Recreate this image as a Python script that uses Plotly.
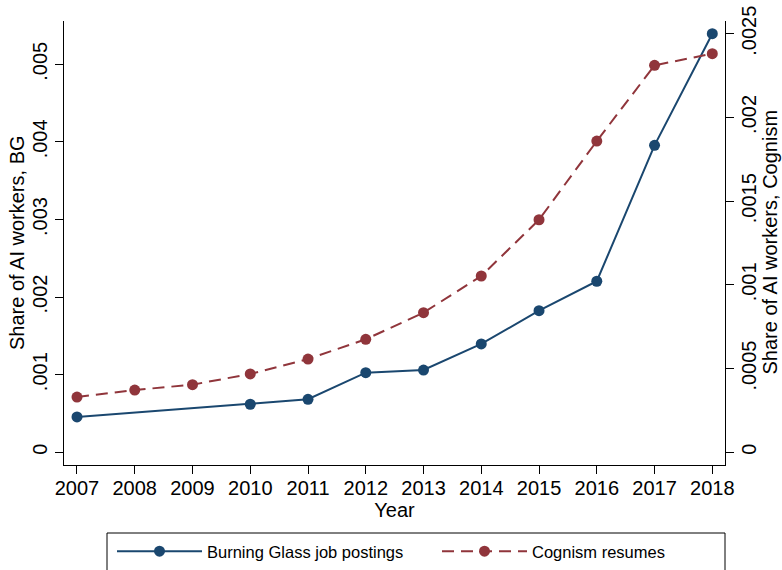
import plotly.graph_objects as go

years_bg = [2007, 2010, 2011, 2012, 2013, 2014, 2015, 2016, 2017, 2018]
bg_share = [0.000455, 0.000619, 0.000683, 0.001026, 0.00106, 0.001396, 0.001825, 0.002204, 0.003956, 0.005394]

years_cog = [2007, 2008, 2009, 2010, 2011, 2012, 2013, 2014, 2015, 2016, 2017, 2018]
cog_share = [0.000330, 0.000372, 0.000404, 0.000468, 0.000557, 0.000675, 0.000834, 0.001053, 0.001389, 0.001859, 0.002311, 0.002381]

left_ticks = [0, 0.001, 0.002, 0.003, 0.004, 0.005]
left_labels = ["0", ".001", ".002", ".003", ".004", ".005"]
right_ticks = [0, 0.0005, 0.001, 0.0015, 0.002, 0.0025]
right_labels = ["0", ".0005", ".001", ".0015", ".002", ".0025"]
x_ticks = list(range(2007, 2019))

BLUE = "#1a476f"
RED = "#90353b"
FONT = "Liberation Sans, Arial, sans-serif"

W, H = 782, 570
L, R, T, B = 64, 57, 21, 105
PW, PH = W - L - R, H - T - B


def px_x(px):
    return (px - L) / PW


def px_y(py):
    return (H - B - py) / PH


fig = go.Figure()
fig.add_trace(go.Scatter(
    x=years_bg, y=bg_share, name="Burning Glass job postings",
    mode="lines+markers", line=dict(color=BLUE, width=2),
    marker=dict(color=BLUE, size=11), yaxis="y"))
fig.add_trace(go.Scatter(
    x=years_cog, y=cog_share, name="Cognism resumes",
    mode="lines+markers", line=dict(color=RED, width=2, dash="12px,7px"),
    marker=dict(color=RED, size=11), yaxis="y2"))

axis_common = dict(showgrid=False, zeroline=False, showline=True, linecolor="black",
                   linewidth=1, ticks="outside", ticklen=8, tickcolor="black",
                   tickfont=dict(size=20, color="black"), automargin=False)

fig.update_layout(
    width=W, height=H,
    margin=dict(l=L, r=R, t=T, b=B),
    paper_bgcolor="white", plot_bgcolor="white",
    font=dict(family=FONT, color="black"),
    showlegend=True,
    xaxis=dict(range=[2006.775, 2018.22], tickvals=x_ticks, ticklabelstandoff=-3,
               title=dict(text="Year", font=dict(size=20), standoff=0), **axis_common),
    yaxis=dict(range=[-0.000164, 0.005558], tickvals=left_ticks, ticktext=left_labels,
               tickangle=-90, ticklabelstandoff=0, **axis_common),
    yaxis2=dict(range=[-0.0000758, 0.002576], tickvals=right_ticks, ticktext=right_labels,
                tickangle=-90, overlaying="y", side="right", ticklabelstandoff=-2,
                **axis_common),
    legend=dict(orientation="h", xref="container", yref="container",
                x=112 / W, xanchor="left", y=1 - 534 / H, yanchor="top",
                borderwidth=0, bgcolor="rgba(0,0,0,0)", font=dict(size=16.5),
                itemwidth=85, entrywidth=225, tracegroupgap=0),
    annotations=[
        dict(text="Share of AI workers, BG", xref="paper", yref="paper",
             x=px_x(17), y=0.5, xanchor="center", yanchor="middle",
             textangle=-90, showarrow=False, font=dict(size=20)),
        dict(text="Share of AI workers, Cognism", xref="paper", yref="paper",
             x=px_x(770), y=px_y(242.5), xanchor="center", yanchor="middle",
             textangle=-90, showarrow=False, font=dict(size=20)),
    ],
    shapes=[
        dict(type="rect", xref="paper", yref="paper",
             x0=px_x(107), x1=px_x(725), y0=px_y(533), y1=px_y(585),
             line=dict(color="black", width=1), fillcolor="rgba(0,0,0,0)", layer="above"),
    ],
)

fig.write_html("out.html", config={"displayModeBar": False},
               post_script="document.body.style.margin='0';")
